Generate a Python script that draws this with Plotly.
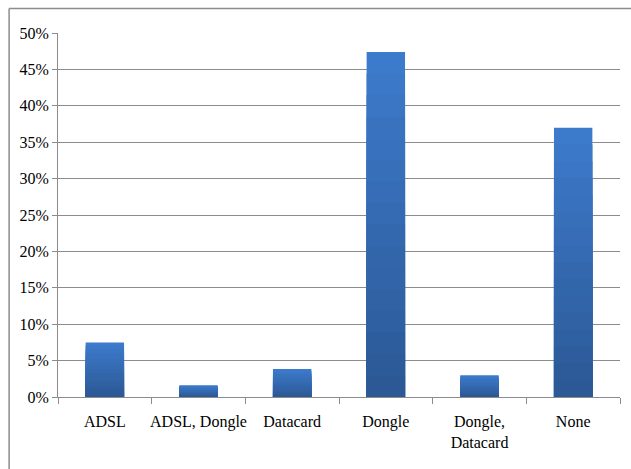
import plotly.graph_objects as go

categories = ["ADSL", "ADSL, Dongle", "Datacard", "Dongle", "Dongle,<br>Datacard", "None"]
values = [0.075, 0.016, 0.0385, 0.474, 0.030, 0.370]
y_ticks = [0, 0.05, 0.10, 0.15, 0.20, 0.25, 0.30, 0.35, 0.40, 0.45, 0.50]

top_rgb = (60, 122, 203)
bottom_rgb = (44, 89, 150)
steps = 16

fig = go.Figure()
for k in range(steps):
    frac = 1 - k / steps
    t = k / (steps - 1)
    c = tuple(round(top_rgb[i] + (bottom_rgb[i] - top_rgb[i]) * t) for i in range(3))
    fig.add_trace(go.Bar(
        x=categories, y=[v * frac for v in values],
        marker=dict(color="rgb(%d,%d,%d)" % c, line=dict(width=0)),
        hoverinfo="skip" if k else None,
    ))

font = dict(family="Liberation Serif", size=16, color="#000000")

fig.update_layout(
    width=631, height=469,
    margin=dict(l=58, r=11, t=33, b=72),
    paper_bgcolor="white", plot_bgcolor="white",
    barmode="overlay",
    bargap=0.59,
    showlegend=False,
    font=font,
    shapes=[
        dict(type="line", xref="paper", yref="paper", x0=-0.087, x1=-0.087, y0=1.067, y1=-0.2,
             line=dict(color="#8c8c8c", width=1.5)),
        dict(type="line", xref="paper", yref="paper", x0=-0.087, x1=1.05, y0=1.067, y1=1.067,
             line=dict(color="#8c8c8c", width=1.5)),
    ],
)
fig.update_xaxes(
    showline=True, linecolor="#8c8c8c", linewidth=1,
    ticks="outside", tickson="boundaries", ticklen=6, tickcolor="#8c8c8c",
    showgrid=False, tickfont=font, tickangle=0, automargin=False,
    ticklabelstandoff=10,
)
fig.update_yaxes(
    range=[0, 0.5], tickvals=y_ticks, tickformat=".0%",
    showline=True, linecolor="#8c8c8c", linewidth=1,
    ticks="outside", ticklen=5, tickcolor="#8c8c8c",
    showgrid=True, gridcolor="#8c8c8c", gridwidth=1,
    zeroline=False, tickfont=font, automargin=False,
)

fig.write_html("out.html")
